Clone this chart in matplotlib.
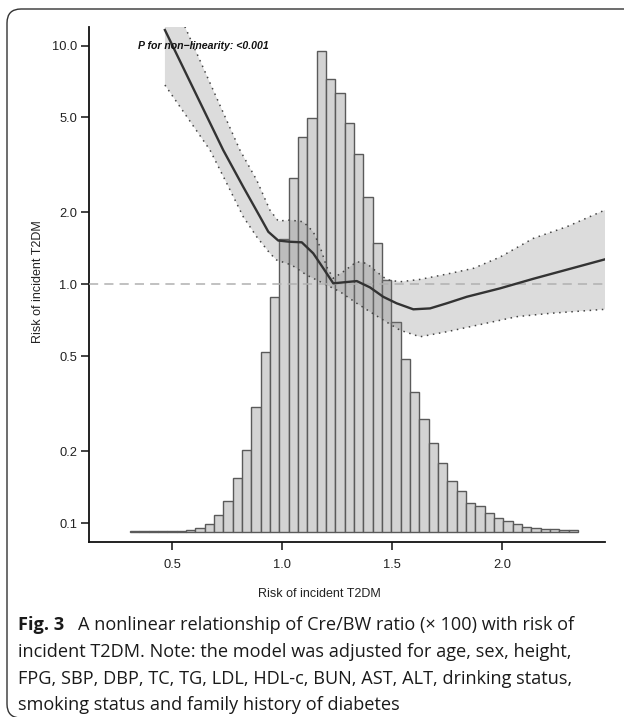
import numpy as np
import matplotlib
matplotlib.use("Agg")
import matplotlib.pyplot as plt
from matplotlib.path import Path
from matplotlib.patches import PathPatch
from matplotlib.transforms import IdentityTransform
from matplotlib.ticker import FixedLocator, NullLocator, FixedFormatter

# ---------------- data ----------------
# restricted cubic spline estimate (HR) and 95% CI
curve_x = [0.468, 0.733, 0.824, 0.900, 0.938, 0.983, 1.036, 1.090, 1.142, 1.188,
           1.233, 1.340, 1.400, 1.460, 1.521, 1.597, 1.673, 1.749, 1.840, 1.991,
           2.142, 2.468]
curve_y = [11.63, 3.65, 2.56, 1.92, 1.66, 1.526, 1.508, 1.50, 1.349, 1.167,
           1.01, 1.032, 0.971, 0.887, 0.833, 0.786, 0.793, 0.833, 0.887, 0.962,
           1.055, 1.273]

upper_x = [0.468, 0.559, 0.809, 0.885, 0.945, 0.983, 1.036, 1.097, 1.142, 1.173,
           1.203, 1.233, 1.278, 1.340, 1.385, 1.430, 1.476, 1.536, 1.627, 1.749,
           1.870, 1.991, 2.142, 2.294, 2.468]
upper_y = [18.0, 12.0, 3.65, 2.735, 2.048, 1.842, 1.859, 1.829, 1.66, 1.437,
           1.185, 1.06, 1.129, 1.244, 1.224, 1.129, 1.047, 1.025, 1.049, 1.104,
           1.167, 1.301, 1.558, 1.743, 2.048]

lower_x = [0.468, 0.673, 0.749, 0.824, 0.885, 0.945, 0.976, 1.044, 1.112, 1.188,
           1.264, 1.340, 1.400, 1.460, 1.536, 1.627, 1.749, 1.870, 2.067, 2.218,
           2.468]
lower_y = [6.84, 3.65, 2.65, 1.92, 1.583, 1.349, 1.264, 1.205, 1.094, 1.01,
           0.931, 0.833, 0.768, 0.709, 0.643, 0.603, 0.633, 0.669, 0.732, 0.756,
           0.786]

# histogram of Cre/BW ratio (relative counts)
hist_start = 0.309
hist_width = 0.04242
hist_counts = [0.3, 0.3, 0.4, 0.5, 0.7, 1, 2, 4, 8, 16.4,
               30.7, 53.7, 81.4, 124.4, 180, 234.4, 292.4, 354, 395, 413.7,
               480.7, 452.7, 439, 408.4, 377.7, 334.4, 289, 251.7, 209.4, 172.7,
               140, 112.7, 88.4, 68.7, 51, 40.4, 29, 25.7, 19, 13.4,
               10.4, 7.4, 5, 3.7, 3, 2.4, 1.7, 1.3]

x_ticks = [0.5, 1.0, 1.5, 2.0]
x_ticklabels = ["0.5", "1.0", "1.5", "2.0"]
y_ticks = [0.1, 0.2, 0.5, 1.0, 2.0, 5.0, 10.0]
y_ticklabels = ["0.1", "0.2", "0.5", "1.0", "2.0", "5.0", "10.0"]

x_label = "Risk of incident T2DM"
y_label = "Risk of incident T2DM"
p_text = "P for non\u2212linearity: <0.001"
caption_bold = "Fig. 3"
caption_lines = [
    "A nonlinear relationship of Cre/BW ratio (\u00d7 100) with risk of",
    "incident T2DM. Note: the model was adjusted for age, sex, height,",
    "FPG, SBP, DBP, TC, TG, LDL, HDL-c, BUN, AST, ALT, drinking status,",
    "smoking status and family history of diabetes",
]

# ---------------- figure ----------------
W, H, DPI = 624, 717, 100
fig = plt.figure(figsize=(W / DPI, H / DPI), dpi=DPI)
plt.rcParams['font.family'] = ['Liberation Sans', 'DejaVu Sans']

ax_l, ax_r, ax_t, ax_b = 89, 605, 27, 542
ax = fig.add_axes([ax_l / W, (H - ax_b) / H, (ax_r - ax_l) / W, (ax_b - ax_t) / H])
ax2 = ax.twinx()

# histogram on hidden linear axis, behind
edges = hist_start + hist_width * np.arange(len(hist_counts))
ax2.bar(edges, hist_counts, width=hist_width, align='edge',
        color='#d3d3d3', edgecolor='#5a5a5a', linewidth=1.0)
ax2.set_ylim(-10.3, 504.7)
ax2.set_axis_off()
ax.set_zorder(ax2.get_zorder() + 1)
ax.patch.set_visible(False)

ax.set_yscale('log')
ax.set_xlim(0.123, 2.468)
ax.set_ylim(0.0833, 11.97)
ax2.set_xlim(0.123, 2.468)

# CI band
poly_x = np.concatenate([upper_x, lower_x[::-1]])
poly_y = np.concatenate([upper_y, lower_y[::-1]])
ax.fill(poly_x, poly_y, color='#808080', alpha=0.27, linewidth=0, zorder=2)
ax.plot(upper_x, upper_y, color='#444444', lw=1.1, linestyle=(0, (1, 3)), zorder=3)
ax.plot(lower_x, lower_y, color='#444444', lw=1.1, linestyle=(0, (1, 3)), zorder=3)

# reference line
ax.axhline(1.0, color='#b0b0b0', lw=1.1, linestyle=(0, (6, 4)), zorder=3)

# estimate
ax.plot(curve_x, curve_y, color='#333333', lw=1.7, zorder=4, solid_joinstyle='round')

ax.text(0.643, 10.0, p_text, fontsize=7.6, fontweight='bold', fontstyle='italic',
        ha='center', va='center', color='#111111', zorder=5)

# axes styling
for s in ['top', 'right']:
    ax.spines[s].set_visible(False)
for s in ['left', 'bottom']:
    ax.spines[s].set_linewidth(1.3)
    ax.spines[s].set_color('#111111')
ax.xaxis.set_major_locator(FixedLocator(x_ticks))
ax.xaxis.set_major_formatter(FixedFormatter(x_ticklabels))
ax.yaxis.set_major_locator(FixedLocator(y_ticks))
ax.yaxis.set_major_formatter(FixedFormatter(y_ticklabels))
ax.yaxis.set_minor_locator(NullLocator())
ax.xaxis.set_minor_locator(NullLocator())
ax.tick_params(axis='both', direction='out', length=5.5, width=1.1, color='#111111',
               labelsize=9.3, labelcolor='#222222')
ax.tick_params(axis='x', pad=7)
ax.tick_params(axis='y', pad=3)

fig.text(319 / W, 1 - 594 / H, x_label, fontsize=9, ha='center', va='center', color='#222222')
fig.text(38 / W, 1 - 282 / H, y_label, fontsize=9, ha='center', va='center',
         rotation=90, color='#222222')

# caption
cap_font = 'Open Sans'
cap_size = 13.1
line_y = [625, 652, 679, 705]
fig.text(18 / W, 1 - line_y[0] / H, caption_bold, fontsize=cap_size, fontweight='bold',
         family=cap_font, ha='left', va='center', color='#1a1a1a')
fig.text(78 / W, 1 - line_y[0] / H, caption_lines[0], fontsize=cap_size, family=cap_font,
         ha='left', va='center', color='#1a1a1a')
for yy, t in zip(line_y[1:], caption_lines[1:]):
    fig.text(18 / W, 1 - yy / H, t, fontsize=cap_size, family=cap_font,
             ha='left', va='center', color='#1a1a1a')

# rounded frame (partially outside the image)
r = 14
x0, ytop, ybot, xr = 7, H - 9, -1, W + 40
verts = [(xr, ytop), (x0 + r, ytop), (x0, ytop), (x0, ytop - r),
         (x0, ybot + r), (x0, ybot), (x0 + r, ybot), (xr, ybot)]
codes = [Path.MOVETO, Path.LINETO, Path.CURVE3, Path.CURVE3,
         Path.LINETO, Path.CURVE3, Path.CURVE3, Path.LINETO]
frame = PathPatch(Path(verts, codes), transform=IdentityTransform(), fill=False,
                  edgecolor='#333333', linewidth=1.0)
fig.patches.append(frame)

fig.savefig('out.png', dpi=DPI)
